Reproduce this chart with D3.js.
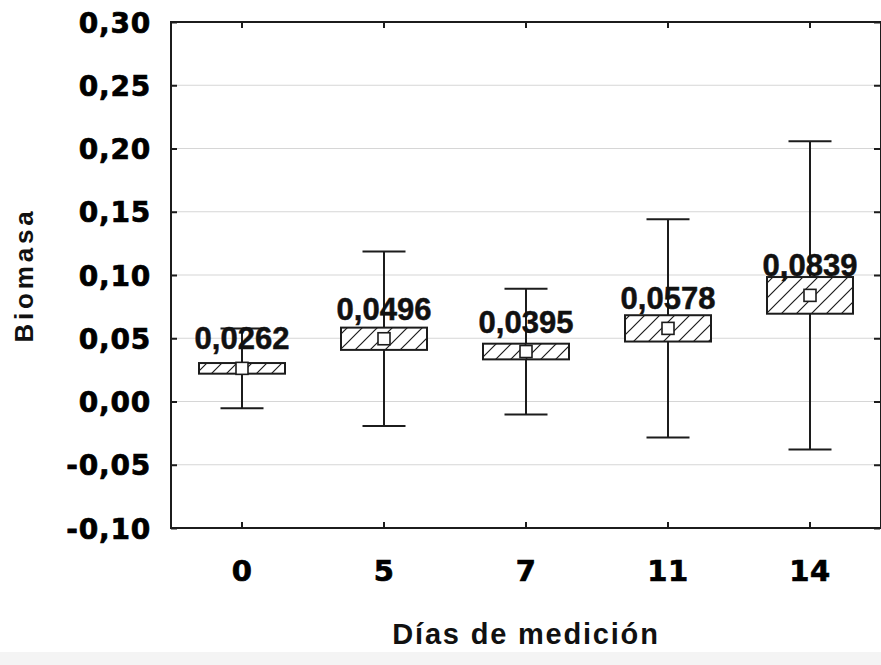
<!DOCTYPE html>
<html>
<head>
<meta charset="utf-8">
<script src="https://cdn.jsdelivr.net/npm/d3@7/dist/d3.min.js"></script>
<style>
  html, body { margin: 0; padding: 0; background: #ffffff; }
  svg { display: block; }
</style>
</head>
<body>
<svg id="chart" width="881" height="665"></svg>
<script>
// Biomass by measurement day: mean, mean ± SE (box), mean ± 1.96·SD (whiskers)
const days = ["0", "5", "7", "11", "14"];
const means = [0.0262, 0.0496, 0.0395, 0.0578, 0.0839];
const boxLow = [0.0220, 0.0408, 0.0333, 0.0474, 0.0694];
const boxHigh = [0.0304, 0.0584, 0.0457, 0.0682, 0.0984];
const whiskerLow = [-0.0054, -0.0194, -0.0102, -0.0285, -0.0380];
const whiskerHigh = [0.0578, 0.1186, 0.0892, 0.1441, 0.2058];
const yTicks = [-0.10, -0.05, 0.00, 0.05, 0.10, 0.15, 0.20, 0.25, 0.30];

const svg = d3.select("#chart");
const plotLeft = 171, plotRight = 881, plotTop = 22, plotBottom = 528;

const x = d3.scaleBand().domain(days).range([plotLeft, plotRight]).paddingInner(0).paddingOuter(0);
const y = d3.scaleLinear().domain([-0.10, 0.30]).range([plotBottom, plotTop]);
const fmt = v => d3.format(".2f")(v).replace(".", ",").replace("\u2212", "-");
const fmt4 = v => d3.format(".4f")(v).replace(".", ",");

const ink = "#1c1c1c";

// faint strip along the bottom edge
svg.append("rect").attr("x", 0).attr("y", 652).attr("width", 881).attr("height", 13).attr("fill", "#f4f4f4");

// hatch pattern for the SE boxes
const defs = svg.append("defs");
const hw = 15;
const pat = defs.append("pattern")
  .attr("id", "hatch").attr("patternUnits", "userSpaceOnUse")
  .attr("width", hw).attr("height", hw);
pat.append("rect").attr("width", hw).attr("height", hw).attr("fill", "#ffffff");
pat.append("path")
  .attr("d", `M0,${hw} L${hw},0 M${-hw/4},${hw/4} L${hw/4},${-hw/4} M${3*hw/4},${5*hw/4} L${5*hw/4},${3*hw/4}`)
  .attr("stroke", ink).attr("stroke-width", 1.2);

// horizontal gridlines
svg.append("g").selectAll("line")
  .data(yTicks.filter(t => t > -0.10 + 1e-9 && t < 0.30 - 1e-9))
  .join("line")
  .attr("x1", plotLeft).attr("x2", plotRight)
  .attr("y1", d => y(d)).attr("y2", d => y(d))
  .attr("stroke", "#d6d6d6").attr("stroke-width", 1.2);

// axes with inward ticks
const yAxisL = d3.axisLeft(y).tickValues(yTicks).tickSize(-6).tickPadding(20).tickFormat(fmt);
const gY = svg.append("g").attr("transform", `translate(${plotLeft},0)`).call(yAxisL);
gY.select(".domain").remove();
gY.selectAll(".tick line").attr("stroke", ink).attr("stroke-width", 2);
gY.selectAll(".tick text")
  .attr("fill", "#000").attr("stroke", "#000").attr("stroke-width", 0.7)
  .attr("font-family", "'DejaVu Sans', sans-serif")
  .attr("font-weight", "bold").attr("font-size", 28).attr("letter-spacing", 0.8)
  .attr("dy", "0.36em");

const yAxisR = d3.axisRight(y).tickValues(yTicks).tickSize(-6).tickFormat("");
const gYR = svg.append("g").attr("transform", `translate(${plotRight - 1},0)`).call(yAxisR);
gYR.select(".domain").remove();
gYR.selectAll(".tick line").attr("stroke", ink).attr("stroke-width", 2);

const xAxisB = d3.axisBottom(x).tickSize(-6).tickPadding(32);
const gX = svg.append("g").attr("transform", `translate(0,${plotBottom})`).call(xAxisB);
gX.select(".domain").remove();
gX.selectAll(".tick line").attr("stroke", ink).attr("stroke-width", 2);
gX.selectAll(".tick text")
  .attr("fill", "#000").attr("stroke", "#000").attr("stroke-width", 0.7)
  .attr("font-family", "'DejaVu Sans', sans-serif")
  .attr("font-weight", "bold").attr("font-size", 29).attr("letter-spacing", 0.5);

const xAxisT = d3.axisTop(x).tickSize(-6).tickFormat("");
const gXT = svg.append("g").attr("transform", `translate(0,${plotTop})`).call(xAxisT);
gXT.select(".domain").remove();
gXT.selectAll(".tick line").attr("stroke", ink).attr("stroke-width", 2);

// frame
svg.append("rect")
  .attr("x", plotLeft).attr("y", plotTop).attr("width", plotRight - plotLeft).attr("height", plotBottom - plotTop)
  .attr("fill", "none").attr("stroke", ink).attr("stroke-width", 2);

// boxes and whiskers
const rows = days.map((d, i) => ({
  day: d, mean: means[i], lo: boxLow[i], hi: boxHigh[i], wl: whiskerLow[i], wh: whiskerHigh[i]
}));
const cx = d => x(d.day) + x.bandwidth() / 2;
const boxW = 86, capW = 43, mk = 12;

const g = svg.append("g");
const item = g.selectAll("g.item").data(rows).join("g").attr("class", "item");

item.append("line")
  .attr("x1", cx).attr("x2", cx)
  .attr("y1", d => y(d.wl)).attr("y2", d => y(d.wh))
  .attr("stroke", ink).attr("stroke-width", 2);
item.append("line")
  .attr("x1", d => cx(d) - capW / 2).attr("x2", d => cx(d) + capW / 2)
  .attr("y1", d => y(d.wh)).attr("y2", d => y(d.wh))
  .attr("stroke", ink).attr("stroke-width", 2);
item.append("line")
  .attr("x1", d => cx(d) - capW / 2).attr("x2", d => cx(d) + capW / 2)
  .attr("y1", d => y(d.wl)).attr("y2", d => y(d.wl))
  .attr("stroke", ink).attr("stroke-width", 2);

item.append("rect")
  .attr("x", d => cx(d) - boxW / 2).attr("width", boxW)
  .attr("y", d => y(d.hi)).attr("height", d => y(d.lo) - y(d.hi))
  .attr("fill", "url(#hatch)").attr("stroke", ink).attr("stroke-width", 2);

item.append("rect")
  .attr("x", d => cx(d) - mk / 2).attr("width", mk)
  .attr("y", d => y(d.mean) - mk / 2).attr("height", mk)
  .attr("fill", "#fff").attr("stroke", ink).attr("stroke-width", 1.6);

item.append("text")
  .attr("x", cx).attr("y", d => y(d.mean) - 19)
  .attr("text-anchor", "middle")
  .attr("font-family", "'Liberation Sans', Arial, sans-serif")
  .attr("font-weight", "bold").attr("font-size", 31)
  .attr("fill", "#111").attr("stroke", "#111").attr("stroke-width", 0.5)
  .text(d => fmt4(d.mean));

// axis titles
svg.append("text")
  .attr("transform", `translate(33,${(plotTop + plotBottom) / 2}) rotate(-90)`)
  .attr("text-anchor", "middle")
  .attr("font-family", "'Liberation Sans', Arial, sans-serif")
  .attr("font-weight", "bold").attr("font-size", 26).attr("letter-spacing", 3.8)
  .attr("fill", "#111")
  .text("Biomasa");

svg.append("text")
  .attr("x", (plotLeft + plotRight) / 2).attr("y", 644)
  .attr("text-anchor", "middle")
  .attr("font-family", "'Liberation Sans', Arial, sans-serif")
  .attr("font-weight", "bold").attr("font-size", 29).attr("letter-spacing", 1.8)
  .attr("fill", "#111")
  .text("Días de medición");
</script>
</body>
</html>
